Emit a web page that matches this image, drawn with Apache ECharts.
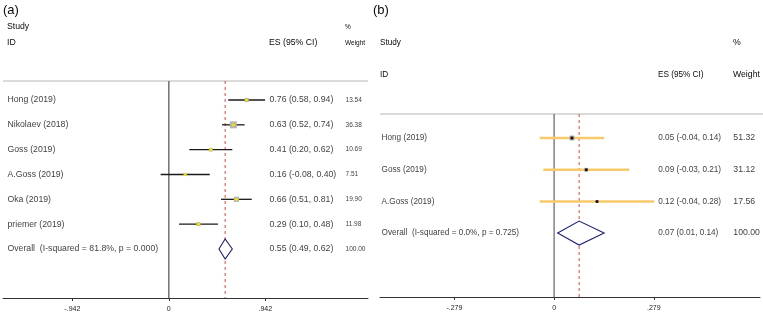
<!DOCTYPE html>
<html>
<head>
<meta charset="utf-8">
<script src="https://cdn.jsdelivr.net/npm/echarts@6/dist/echarts.min.js"></script>
<style>
  html, body { margin: 0; padding: 0; background: #fff; }
  #chart { width: 763px; height: 316px; }
</style>
</head>
<body>
<div id="chart"></div>
<script>
// panel (a)
const studiesA = ['Hong (2019)', 'Nikolaev (2018)', 'Goss (2019)', 'A.Goss (2019)', 'Oka (2019)', 'priemer (2019)'];
const esA = [0.76, 0.63, 0.41, 0.16, 0.66, 0.29];
const loA = [0.58, 0.52, 0.20, -0.08, 0.51, 0.10];
const hiA = [0.94, 0.74, 0.62, 0.40, 0.81, 0.48];
const weightA = [13.54, 36.38, 10.69, 7.51, 19.90, 11.98];
const overallLabelA = 'Overall  (I-squared = 81.8%, p = 0.000)';
const overallA = [0.55, 0.49, 0.62];
const overallWeightA = 100.00;
const ticksA = [-0.942, 0, 0.942];
const tickLabelsA = ['-.942', '0', '.942'];

// panel (b)
const studiesB = ['Hong (2019)', 'Goss (2019)', 'A.Goss (2019)'];
const esB = [0.05, 0.09, 0.12];
const loB = [-0.04, -0.03, -0.04];
const hiB = [0.14, 0.21, 0.28];
const weightB = [51.32, 31.12, 17.56];
const overallLabelB = 'Overall  (I-squared = 0.0%, p = 0.725)';
const overallB = [0.07, 0.01, 0.14];
const overallWeightB = 100.00;
const ticksB = [-0.279, 0, 0.279];
const tickLabelsB = ['-.279', '0', '.279'];

const FONT = '"Liberation Sans Narrow", "Liberation Sans", Arial, sans-serif';

// layout of the two panels (data units)
const panels = [
  {
    grid: {left: 3, top: 81, width: 365, height: 217},
    xMin: -1.619, xMax: 1.945, yMin: -0.765, yMax: 7.974,
    nameX: -1.58, esX: 0.979, wX: 1.721,
    nameSize: 8.7, esSize: 8.7, wSize: 6.5,
    ciColor: '#1a1a1a', ciWidth: 1.3, boxColor: '#b4b4b4', boxScale: 1.16,
    dotColor: '#f2e200', dotR: 1.6, diamondH: 10,
    zeroColor: '#7a7a7a', zeroWidth: 1.6,
    studies: studiesA, es: esA, lo: loA, hi: hiA, weight: weightA,
    overallLabel: overallLabelA, overall: overallA, overallWeight: overallWeightA,
    ticks: ticksA, tickLabels: tickLabelsA
  },
  {
    grid: {left: 380, top: 114, width: 380, height: 183},
    xMin: -0.487, xMax: 0.576, yMin: -0.757, yMax: 5.016,
    nameX: -0.484, esX: 0.290, wX: 0.500,
    nameSize: 8.2, esSize: 8.2, wSize: 8.7,
    ciColor: '#f8ca6c', ciWidth: 2.5, boxColor: '#9a9a9a', boxScale: 0.66,
    dotColor: '#111', dotR: 1.5, diamondH: 12,
    zeroColor: '#444', zeroWidth: 1,
    studies: studiesB, es: esB, lo: loB, hi: hiB, weight: weightB,
    overallLabel: overallLabelB, overall: overallB, overallWeight: overallWeightB,
    ticks: ticksB, tickLabels: tickLabelsB
  }
];

const grids = [], xAxes = [], yAxes = [], series = [];

function ciText(e, l, h) {
  return e.toFixed(2) + ' (' + l.toFixed(2) + ', ' + h.toFixed(2) + ')';
}

panels.forEach(function (p, i) {
  grids.push(p.grid);
  xAxes.push({
    type: 'value', gridIndex: i, min: p.xMin, max: p.xMax,
    axisLine: {show: true, onZero: false, lineStyle: {color: '#333', width: 1}},
    axisTick: {show: true, customValues: p.ticks, length: 3, lineStyle: {color: '#333'}},
    axisLabel: {
      customValues: p.ticks, color: '#222', fontSize: 7, fontFamily: FONT, margin: 8,
      formatter: function (v) {
        const k = p.ticks.findIndex(function (t) { return Math.abs(t - v) < 1e-6; });
        return k >= 0 ? p.tickLabels[k] : '';
      }
    },
    splitLine: {show: false}
  });
  yAxes.push({
    type: 'value', gridIndex: i, min: p.yMin, max: p.yMax, inverse: true, show: false
  });

  const n = p.studies.length;

  // zero line
  series.push({
    type: 'line', xAxisIndex: i, yAxisIndex: i, symbol: 'none', silent: true,
    data: [[0, p.yMin], [0, p.yMax]],
    lineStyle: {color: p.zeroColor, width: p.zeroWidth}, z: 1
  });
  // overall estimate (dashed)
  series.push({
    type: 'line', xAxisIndex: i, yAxisIndex: i, symbol: 'none', silent: true,
    data: [[p.overall[0], p.yMin], [p.overall[0], p.yMax]],
    lineStyle: {color: '#e04848', width: 1, type: [3, 3]}, z: 2
  });

  // study CI, box, dot
  series.push({
    type: 'custom', xAxisIndex: i, yAxisIndex: i, z: 3,
    data: p.studies.map(function (s, k) { return [p.es[k], p.lo[k], p.hi[k], k, p.weight[k]]; }),
    renderItem: function (params, api) {
      const c = api.coord([api.value(0), api.value(3)]);
      const a = api.coord([api.value(1), api.value(3)]);
      const b = api.coord([api.value(2), api.value(3)]);
      const side = Math.sqrt(api.value(4)) * p.boxScale;
      return {
        type: 'group',
        children: [
          {type: 'line', shape: {x1: a[0], y1: a[1], x2: b[0], y2: b[1]},
           style: {stroke: p.ciColor, lineWidth: p.ciWidth}},
          {type: 'rect', shape: {x: c[0] - side / 2, y: c[1] - side / 2, width: side, height: side},
           style: {fill: p.boxColor}},
          {type: 'circle', shape: {cx: c[0], cy: c[1], r: p.dotR}, style: {fill: p.dotColor}}
        ]
      };
    }
  });

  // overall diamond
  series.push({
    type: 'custom', xAxisIndex: i, yAxisIndex: i, z: 3,
    data: [[p.overall[0], p.overall[1], p.overall[2], n]],
    renderItem: function (params, api) {
      const c = api.coord([api.value(0), api.value(3)]);
      const a = api.coord([api.value(1), api.value(3)]);
      const b = api.coord([api.value(2), api.value(3)]);
      return {
        type: 'polygon',
        shape: {points: [[a[0], a[1]], [c[0], c[1] - p.diamondH], [b[0], b[1]], [c[0], c[1] + p.diamondH]]},
        style: {fill: '#fff', stroke: '#1e2272', lineWidth: 1.1}
      };
    }
  });

  // text columns
  function textCol(x, texts, size) {
    series.push({
      type: 'scatter', xAxisIndex: i, yAxisIndex: i, symbolSize: 1, silent: true,
      itemStyle: {color: 'transparent'},
      data: texts.map(function (t, k) { return [x, k, t]; }),
      label: {
        show: true, position: 'right', distance: 0, color: '#0a0a0a',
        fontSize: size, fontFamily: FONT,
        formatter: function (q) { return q.data[2]; }
      }
    });
  }
  textCol(p.nameX, p.studies.concat([p.overallLabel]), p.nameSize);
  textCol(p.esX, p.studies.map(function (s, k) { return ciText(p.es[k], p.lo[k], p.hi[k]); })
    .concat([ciText(p.overall[0], p.overall[1], p.overall[2])]), p.esSize);
  textCol(p.wX, p.weight.concat([p.overallWeight]).map(function (w) { return w.toFixed(2); }), p.wSize);
});

function txt(x, y, s, size) {
  return {type: 'text', x: x, y: y,
    style: {text: s, fill: '#0a0a0a', font: size + 'px ' + FONT, textVerticalAlign: 'middle'}};
}

const chart = echarts.init(document.getElementById('chart'));
chart.setOption({
  animation: false,
  grid: grids,
  xAxis: xAxes,
  yAxis: yAxes,
  series: series,
  graphic: [
    txt(3, 10, '(a)', 13),
    txt(7, 27, 'Study', 8.7),
    txt(7, 43, 'ID', 8.7),
    txt(269, 43, 'ES (95% CI)', 8.7),
    txt(345, 27, '%', 6.5),
    txt(345, 43, 'Weight', 6.5),
    {type: 'line', shape: {x1: 3, y1: 81, x2: 368, y2: 81}, style: {stroke: '#cfcfcf', lineWidth: 1.5}},
    txt(373, 10, '(b)', 13),
    txt(380, 43, 'Study', 8.2),
    txt(380, 75, 'ID', 8.2),
    txt(658, 75, 'ES (95% CI)', 8.2),
    txt(733, 43, '%', 8.7),
    txt(733, 75, 'Weight', 8.7),
    {type: 'line', shape: {x1: 380, y1: 114, x2: 763, y2: 114}, style: {stroke: '#cfcfcf', lineWidth: 1.5}}
  ]
});
</script>
</body>
</html>
